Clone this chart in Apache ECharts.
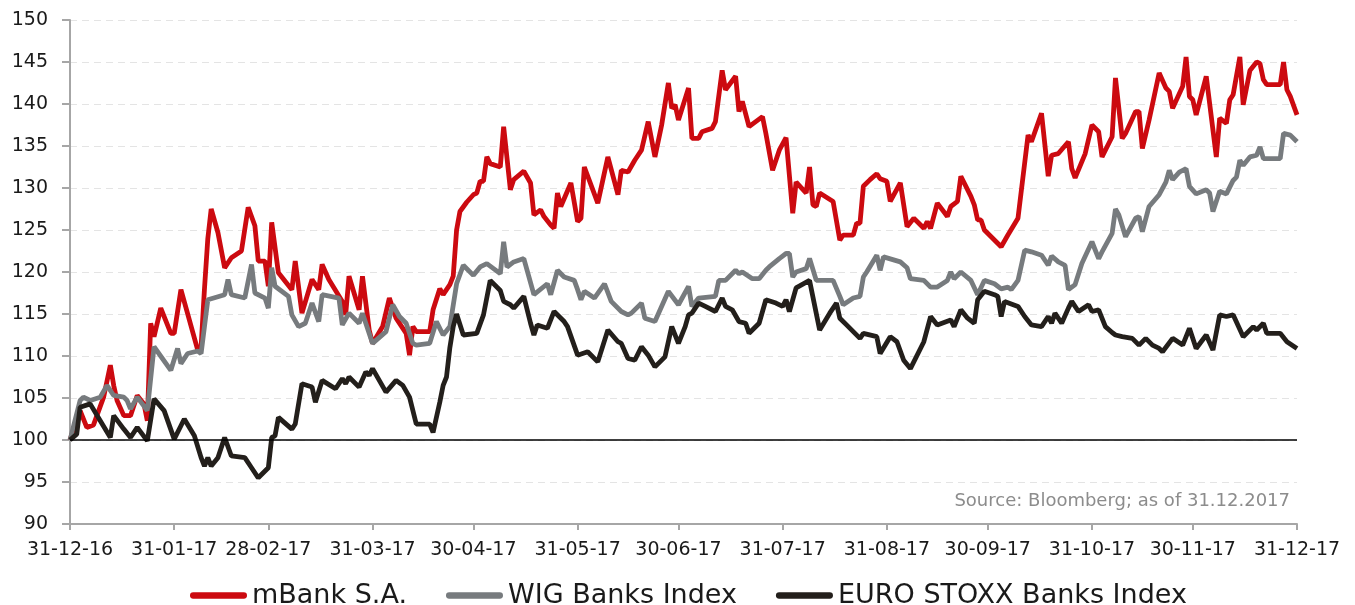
<!DOCTYPE html>
<html><head><meta charset="utf-8">
<script src="https://cdn.jsdelivr.net/npm/echarts@6/dist/echarts.min.js"></script>
<style>html,body{margin:0;padding:0;background:#fff}#c{width:1355px;height:605px}</style>
</head><body><div id="c"></div>
<script>
const tickDates = ['2016-12-31','2017-01-31','2017-02-28','2017-03-31','2017-04-30','2017-05-31','2017-06-30','2017-07-31','2017-08-31','2017-09-30','2017-10-31','2017-11-30','2017-12-31'];
const seriesNames = ['mBank S.A.', 'WIG Banks Index', 'EURO STOXX Banks Index'];
const sourceNote = 'Source: Bloomberg; as of 31.12.2017';
const baseLevel = 100;

const mbankDates = ['2016-12-31','2017-01-03','2017-01-05','2017-01-07','2017-01-10','2017-01-12','2017-01-13','2017-01-14','2017-01-16','2017-01-18','2017-01-20','2017-01-22','2017-01-23','2017-01-24','2017-01-25','2017-01-27','2017-01-30','2017-01-31',
'2017-02-02','2017-02-07','2017-02-08','2017-02-09','2017-02-10','2017-02-11','2017-02-13','2017-02-15','2017-02-17','2017-02-20','2017-02-22','2017-02-24','2017-02-25','2017-02-27','2017-02-28',
'2017-03-01','2017-03-03','2017-03-07','2017-03-08','2017-03-10','2017-03-13','2017-03-15','2017-03-16','2017-03-18','2017-03-22','2017-03-23','2017-03-24','2017-03-27','2017-03-28','2017-03-30','2017-03-31',
'2017-04-03','2017-04-05','2017-04-07','2017-04-10','2017-04-11','2017-04-12','2017-04-13','2017-04-17','2017-04-18','2017-04-20','2017-04-21','2017-04-23','2017-04-24','2017-04-25','2017-04-26','2017-04-28','2017-04-30',
'2017-05-01','2017-05-02','2017-05-03','2017-05-04','2017-05-05','2017-05-08','2017-05-09','2017-05-11','2017-05-12','2017-05-15','2017-05-17','2017-05-18','2017-05-20','2017-05-21','2017-05-23','2017-05-24','2017-05-25','2017-05-26','2017-05-29','2017-05-31',
'2017-06-01','2017-06-02','2017-06-06','2017-06-09','2017-06-12','2017-06-13','2017-06-15','2017-06-17','2017-06-19','2017-06-21','2017-06-23','2017-06-25','2017-06-27','2017-06-28','2017-06-29','2017-06-30',
'2017-07-03','2017-07-04','2017-07-06','2017-07-07','2017-07-10','2017-07-11','2017-07-13','2017-07-14','2017-07-17','2017-07-18','2017-07-19','2017-07-21','2017-07-25','2017-07-26','2017-07-28','2017-07-30',
'2017-08-01','2017-08-03','2017-08-04','2017-08-07','2017-08-08','2017-08-09','2017-08-10','2017-08-11','2017-08-15','2017-08-17','2017-08-18','2017-08-21','2017-08-22','2017-08-23','2017-08-24','2017-08-26','2017-08-28','2017-08-29','2017-08-31',
'2017-09-01','2017-09-04','2017-09-06','2017-09-08','2017-09-11','2017-09-12','2017-09-13','2017-09-15','2017-09-18','2017-09-19','2017-09-21','2017-09-22','2017-09-25','2017-09-26','2017-09-27','2017-09-28','2017-09-29',
'2017-10-04','2017-10-06','2017-10-09','2017-10-12','2017-10-13','2017-10-16','2017-10-18','2017-10-19','2017-10-21','2017-10-24','2017-10-25','2017-10-26','2017-10-29','2017-10-31',
'2017-11-02','2017-11-03','2017-11-06','2017-11-07','2017-11-09','2017-11-10','2017-11-13','2017-11-14','2017-11-15','2017-11-17','2017-11-20','2017-11-22','2017-11-23','2017-11-24','2017-11-27','2017-11-28','2017-11-29','2017-11-30',
'2017-12-01','2017-12-04','2017-12-07','2017-12-08','2017-12-10','2017-12-11','2017-12-12','2017-12-14','2017-12-15','2017-12-17','2017-12-19','2017-12-20','2017-12-21','2017-12-22','2017-12-26','2017-12-27','2017-12-28','2017-12-29','2017-12-31'];
const mbankValues = [100,103.5,101.5,101.8,105.1,108.9,106.5,104.7,102.9,102.9,105.3,104.3,102.3,113.9,112.3,115.7,112.7,112.7,
117.9,110.7,111.1,118,124,127.5,124.7,120.5,121.7,122.5,127.7,125.5,121.3,121.3,118.3,
125.9,119.9,117.9,121.3,115.1,119.1,117.9,120.9,119.1,116.5,114.9,119.5,115.5,119.5,113.1,111.5,
113.5,116.9,114.5,112.7,110.1,113.5,112.9,112.9,115.5,118,117.3,118.5,119.5,125,127.2,128.3,129.2,
129.4,130.8,130.8,133.7,132.9,132.5,137.3,129.8,131,132,130.6,126.8,127.4,126.6,125.6,125.2,129.4,127.8,130.6,126,
126.4,132.5,128.2,133.7,129.2,132.1,131.9,133.3,134.5,137.9,133.7,137.5,142.5,139.5,139.9,138.1,
141.9,135.9,135.9,136.7,137.1,137.9,144.0,141.7,143.3,139.1,140.3,137.3,138.5,136.5,132.1,134.5,
136,127,130.7,129.4,132.5,128,127.8,129.4,128.4,123.8,124.4,124.4,125.8,125.8,130.2,131,131.7,131.1,130.8,
128.4,130.6,125.4,126.4,125.2,126,125.2,128.2,126.6,127.8,128.4,131.4,129,128,126.2,126.2,125,
123,124.4,126.4,136.3,135.5,138.9,131.4,133.9,134.1,135.5,132.3,131.2,134.1,137.5,
136.7,133.7,136.1,143.1,135.9,136.5,139.1,139.1,134.7,138.1,143.7,141.9,141.5,139.5,142.1,145.6,140.9,140.5,
138.7,143.3,133.7,138.3,137.7,140.5,141.1,145.6,139.9,144.0,145.0,144.8,142.9,142.3,142.3,145.0,141.7,140.9,138.7];

const wigDates = ['2016-12-31','2017-01-03','2017-01-04','2017-01-06','2017-01-09','2017-01-11','2017-01-13','2017-01-16','2017-01-17','2017-01-18','2017-01-20','2017-01-23','2017-01-25','2017-01-30',
'2017-02-01','2017-02-02','2017-02-04','2017-02-07','2017-02-08','2017-02-10','2017-02-15','2017-02-16','2017-02-17','2017-02-21','2017-02-23','2017-02-24','2017-02-27','2017-02-28',
'2017-03-01','2017-03-02','2017-03-06','2017-03-07','2017-03-09','2017-03-11','2017-03-13','2017-03-15','2017-03-16','2017-03-21','2017-03-22','2017-03-24','2017-03-27','2017-03-28','2017-03-31',
'2017-04-04','2017-04-06','2017-04-08','2017-04-10','2017-04-12','2017-04-13','2017-04-17','2017-04-19','2017-04-21','2017-04-23','2017-04-25','2017-04-27','2017-04-30',
'2017-05-02','2017-05-04','2017-05-08','2017-05-09','2017-05-10','2017-05-12','2017-05-15','2017-05-18','2017-05-22','2017-05-23','2017-05-25','2017-05-27','2017-05-30','2017-05-31',
'2017-06-01','2017-06-02','2017-06-05','2017-06-08','2017-06-10','2017-06-13','2017-06-15','2017-06-16','2017-06-19','2017-06-20','2017-06-23','2017-06-27','2017-06-30',
'2017-07-03','2017-07-04','2017-07-06','2017-07-11','2017-07-12','2017-07-14','2017-07-17','2017-07-18','2017-07-19','2017-07-22','2017-07-24','2017-07-26','2017-07-27','2017-07-30',
'2017-08-01','2017-08-02','2017-08-03','2017-08-04','2017-08-07','2017-08-08','2017-08-10','2017-08-15','2017-08-17','2017-08-18','2017-08-21','2017-08-23','2017-08-24','2017-08-25','2017-08-28','2017-08-29','2017-08-30',
'2017-09-04','2017-09-06','2017-09-07','2017-09-11','2017-09-13','2017-09-15','2017-09-18','2017-09-19','2017-09-20','2017-09-22','2017-09-25','2017-09-27','2017-09-29',
'2017-10-02','2017-10-04','2017-10-06','2017-10-07','2017-10-09','2017-10-11','2017-10-13','2017-10-16','2017-10-18','2017-10-19','2017-10-21','2017-10-23','2017-10-24','2017-10-26','2017-10-28','2017-10-31',
'2017-11-02','2017-11-03','2017-11-06','2017-11-07','2017-11-08','2017-11-10','2017-11-13','2017-11-14','2017-11-15','2017-11-17','2017-11-20','2017-11-22','2017-11-23','2017-11-24','2017-11-26','2017-11-28','2017-11-29',
'2017-12-01','2017-12-04','2017-12-05','2017-12-06','2017-12-08','2017-12-10','2017-12-12','2017-12-13','2017-12-14','2017-12-15','2017-12-17','2017-12-19','2017-12-20','2017-12-21','2017-12-26','2017-12-27','2017-12-29','2017-12-31'];
const wigValues = [100,104.7,105.1,104.7,105.1,106.5,105.3,105.1,104.7,103.7,105.1,103.5,111.1,108.3,
110.9,109.1,110.3,110.6,110.3,116.7,117.3,119.1,117.3,116.9,120.9,117.5,116.9,115.7,
120.5,118.3,117.1,114.9,113.5,113.9,116.3,114.1,117.3,116.9,113.7,115.1,113.9,115.1,111.5,
112.9,116.1,114.7,113.9,111.5,111.3,111.5,114.1,112.5,113.5,118.6,120.8,119.6,
120.6,121,119.8,123.6,120.6,121.2,121.6,117.3,118.6,117.3,120.2,119.4,119.0,117.9,
116.7,117.7,116.9,118.6,116.5,115.3,114.9,115.1,116.3,114.5,114.1,117.7,116.1,
118.3,115.9,116.9,117.1,119.0,119.0,120.2,119.8,120.0,119.2,119.2,120.2,120.6,121.6,
122.2,122.2,119.4,120.0,120.4,121.6,119.0,119.0,117.1,116.1,116.9,117.1,119.4,120.0,122.0,120.2,121.8,
121.2,120.5,119.2,119.0,118.2,118.2,119.0,120.0,119.2,120.0,119.0,117.3,119.0,
118.6,118.0,118.2,117.9,119.0,122.6,122.4,122.0,120.8,121.9,121.2,120.8,117.9,118.5,121.0,123.6,
121.6,122.4,124.6,127.5,126.8,124.2,126.4,126.6,124.8,127.8,129.2,130.7,132.1,131.0,131.9,132.3,130.2,
129.3,129.8,129.4,127.2,129.6,129.3,130.9,131.3,133.3,132.7,133.7,133.9,134.9,133.5,133.5,136.5,136.3,135.5];

const stoxxDates = ['2016-12-31','2017-01-02','2017-01-03','2017-01-06','2017-01-09','2017-01-12','2017-01-13','2017-01-16','2017-01-18','2017-01-20','2017-01-23','2017-01-25','2017-01-28','2017-01-31',
'2017-02-02','2017-02-03','2017-02-06','2017-02-08','2017-02-09','2017-02-10','2017-02-11','2017-02-13','2017-02-15','2017-02-17','2017-02-21','2017-02-23','2017-02-25','2017-02-28',
'2017-03-01','2017-03-02','2017-03-03','2017-03-07','2017-03-08','2017-03-10','2017-03-13','2017-03-14','2017-03-16','2017-03-20','2017-03-22','2017-03-23','2017-03-24','2017-03-27','2017-03-29','2017-03-30','2017-03-31',
'2017-04-04','2017-04-07','2017-04-09','2017-04-11','2017-04-13','2017-04-17','2017-04-18','2017-04-20','2017-04-21','2017-04-22','2017-04-23','2017-04-24','2017-04-25','2017-04-27',
'2017-05-01','2017-05-03','2017-05-05','2017-05-08','2017-05-09','2017-05-11','2017-05-12','2017-05-15','2017-05-17','2017-05-18','2017-05-19','2017-05-22','2017-05-24','2017-05-27','2017-05-28','2017-05-31',
'2017-06-03','2017-06-06','2017-06-09','2017-06-12','2017-06-13','2017-06-15','2017-06-17','2017-06-19','2017-06-21','2017-06-23','2017-06-26','2017-06-28','2017-06-30',
'2017-07-02','2017-07-03','2017-07-04','2017-07-06','2017-07-08','2017-07-11','2017-07-13','2017-07-14','2017-07-16','2017-07-18','2017-07-20','2017-07-21','2017-07-24','2017-07-26','2017-07-29','2017-07-31',
'2017-08-01','2017-08-02','2017-08-04','2017-08-08','2017-08-11','2017-08-14','2017-08-16','2017-08-17','2017-08-19','2017-08-21','2017-08-23','2017-08-24','2017-08-28','2017-08-29',
'2017-09-01','2017-09-03','2017-09-05','2017-09-07','2017-09-11','2017-09-13','2017-09-15','2017-09-19','2017-09-20','2017-09-22','2017-09-24','2017-09-26','2017-09-27','2017-09-29',
'2017-10-02','2017-10-03','2017-10-04','2017-10-05','2017-10-09','2017-10-11','2017-10-13','2017-10-16','2017-10-18','2017-10-19','2017-10-20','2017-10-22','2017-10-24','2017-10-25','2017-10-27','2017-10-30','2017-10-31',
'2017-11-02','2017-11-04','2017-11-06','2017-11-07','2017-11-09','2017-11-12','2017-11-14','2017-11-16','2017-11-18','2017-11-20','2017-11-21','2017-11-24','2017-11-27','2017-11-29',
'2017-12-01','2017-12-04','2017-12-06','2017-12-08','2017-12-10','2017-12-12','2017-12-15','2017-12-18','2017-12-19','2017-12-21','2017-12-22','2017-12-26','2017-12-28','2017-12-31'];
const stoxxValues = [100,100.7,103.9,104.3,102.3,100.3,102.9,101.3,100.3,101.5,99.9,104.9,103.5,100.1,
101.7,102.5,100.5,97.9,96.9,97.9,96.9,97.9,100.3,98.1,97.9,96.7,95.5,96.7,
100.3,100.5,102.7,101.3,101.9,106.7,106.3,104.5,107.1,106.1,107.3,106.7,107.5,106.3,108.1,107.7,108.5,
105.7,107.1,106.5,105.1,101.9,101.9,100.9,104.5,106.5,107.5,111,113.5,115,112.5,
112.7,114.9,119.0,117.8,116.5,116.1,115.7,117.1,113.9,112.5,113.7,113.3,115.3,114.1,113.5,110.1,
110.5,109.3,113.1,111.7,111.5,109.7,109.5,111.1,110.1,108.7,109.9,113.5,111.5,
113.5,114.9,115.1,116.3,115.9,115.3,116.9,115.9,115.5,114.1,113.9,112.7,113.9,116.7,116.3,115.9,
116.7,115.3,118.1,119.0,113.1,115.1,116.3,114.5,113.7,112.9,112.1,112.7,112.3,110.3,
112.3,111.7,109.5,108.5,111.7,114.7,113.7,114.3,113.5,115.5,114.5,113.9,116.7,117.7,
117.3,117.1,114.7,116.5,115.9,114.7,113.7,113.5,114.7,113.9,115.1,113.9,115.7,116.5,115.3,116.1,115.3,
115.5,113.5,112.8,112.5,112.3,112.1,111.3,112.1,111.3,110.9,110.5,112.1,111.3,113.3,
110.9,112.5,110.7,114.9,114.7,114.9,112.3,113.5,113.1,113.9,112.7,112.7,111.7,110.9];

const toTs = s => { const p = s.split('-').map(Number); return new Date(p[0], p[1] - 1, p[2]).getTime(); };
const pair = (ds, vs) => ds.map((d, i) => [toTs(d), vs[i]]);
const pad = n => (n < 10 ? '0' : '') + n;
const fmt = v => { const d = new Date(Math.round(v)); return pad(d.getDate()) + '-' + pad(d.getMonth() + 1) + '-' + String(d.getFullYear()).slice(2); };
const ticks = tickDates.map(toTs);
const FONT = 'DejaVu Sans';
const colors = ['#cc0a10', '#777b7e', '#231f1b'];
const legendIcon = 'path://M3,0 L51,0 A3,3 0 0 1 51,6 L3,6 A3,3 0 0 1 3,0 Z';
const axisGray = '#a6a6a6';

const chart = echarts.init(document.getElementById('c'), null, {renderer: 'canvas'});
const mkSeries = (name, data, color, extra) => Object.assign({
  name, type: 'line', data, symbol: 'none', showSymbol: false,
  lineStyle: {color, width: 4.8}, itemStyle: {color},
  emphasis: {disabled: true}, silent: true
}, extra || {});

chart.setOption({
  animation: false,
  textStyle: {fontFamily: FONT},
  grid: {left: 70, right: 58, top: 20, bottom: 81, containLabel: false},
  xAxis: {
    type: 'value', min: ticks[0], max: ticks[ticks.length - 1], scale: true,
    axisLine: {show: true, lineStyle: {color: axisGray, width: 2}},
    axisTick: {show: true, length: 6, lineStyle: {color: axisGray, width: 2}, customValues: ticks},
    axisLabel: {customValues: ticks, formatter: fmt, fontSize: 19, color: '#1a1a1a', margin: 17, fontFamily: FONT, hideOverlap: false, showMinLabel: true, showMaxLabel: true},
    splitLine: {show: false}
  },
  yAxis: {
    type: 'value', min: 90, max: 150, interval: 5,
    axisLine: {show: true, lineStyle: {color: axisGray, width: 2}},
    axisTick: {show: true, length: 8, lineStyle: {color: axisGray, width: 2}},
    axisLabel: {fontSize: 19, color: '#1a1a1a', margin: 22, fontFamily: FONT},
    splitLine: {show: true, lineStyle: {color: '#e4e4e4', width: 1, type: [7, 5]}}
  },
  legend: {
    left: 185, top: 577, itemWidth: 57, itemHeight: 7, itemGap: 39,
    icon: legendIcon,
    textStyle: {fontSize: 27, color: '#1a1a1a', fontFamily: FONT},
    data: seriesNames
  },
  title: {
    text: sourceNote, right: 65, top: 492, padding: 0,
    textStyle: {fontSize: 18, fontWeight: 'normal', color: '#8c8c8c', fontFamily: FONT}
  },
  series: [
    mkSeries(seriesNames[0], pair(mbankDates, mbankValues), colors[0], {
      markLine: {silent: true, symbol: 'none', label: {show: false},
        lineStyle: {color: '#000', width: 1.5, type: 'solid'},
        data: [{yAxis: baseLevel}]}
    }),
    mkSeries(seriesNames[1], pair(wigDates, wigValues), colors[1]),
    mkSeries(seriesNames[2], pair(stoxxDates, stoxxValues), colors[2])
  ]
});
</script></body></html>
